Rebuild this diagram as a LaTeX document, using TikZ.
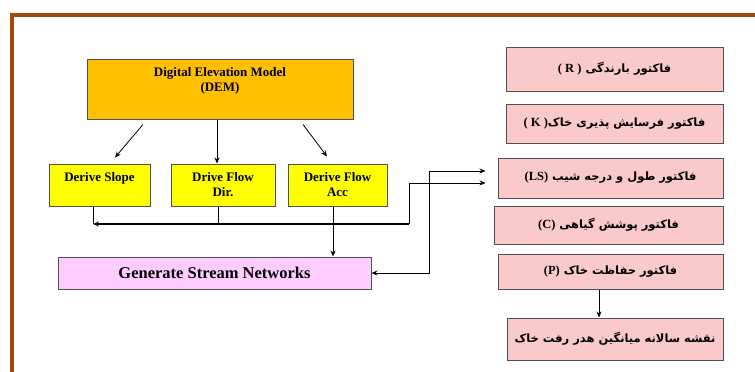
\documentclass[tikz,border=0pt]{standalone}
\usepackage{fontspec}
\setmainfont{Liberation Serif}
\newfontfamily\fa[Script=Arabic]{DejaVu Sans}
\TeXXeTstate=1
\usetikzlibrary{arrows.meta}
\definecolor{rahmen}{RGB}{158,75,12}
\definecolor{randlinie}{RGB}{80,80,80}
\definecolor{demfill}{RGB}{255,192,0}
\definecolor{derfill}{RGB}{255,255,0}
\definecolor{genfill}{RGB}{255,204,255}
\definecolor{fakfill}{RGB}{250,202,202}
\begin{document}
\begin{tikzpicture}[x=1pt,y=-1pt,
	box/.style 2 args={draw=randlinie, line width=1pt, minimum width=#1pt, minimum height=#2pt, inner sep=0pt},
	lab/.style={anchor=north, align=center, inner sep=0pt, yshift=-9pt, font=\bfseries\fontsize{13}{15}\selectfont},
	fak/.style={font=\fa\bfseries\fontsize{11.5}{13}\selectfont},
	pfeil/.style={-{Stealth[length=6pt,width=5pt]}, line width=0.8pt}]
		\useasboundingbox (0,0) rectangle (755,372);
		\fill[white] (0,0) rectangle (755,372);
		%Rahmen
		\draw[rahmen, line width=4pt] (755,14.5) -- (12,14.5) -- (12,372);
		%DEM und Ableitungen
		\node at (220,89) [box={266}{60}, fill=demfill, label={[lab]north:{Digital Elevation Model\\(DEM)}}] (dem) {};
		\node at (99.5,185) [box={101}{42}, fill=derfill, label={[lab]north:{Derive Slope}}] (slope) {};
		\node at (223,185) [box={104}{42}, fill=derfill, label={[lab]north:{Drive Flow\\Dir.}}] (dir) {};
		\node at (337.5,185) [box={99}{42}, fill=derfill, label={[lab]north:{Derive Flow\\Acc}}] (acc) {};
		\node at (214.5,273) [box={313}{32}, fill=genfill, font=\bfseries\fontsize{16.5}{18}\selectfont] (gen) {Generate Stream Networks};
		%Faktoren rechts
		\node at (614.5,69) [box={217}{44}, fill=fakfill, fak] (R) {\beginR فاکتور بارندگی \beginL{\rmfamily\fontsize{12.5}{14}\selectfont ( R )}\endL\endR};
		\node at (614.5,123.5) [box={217}{39}, fill=fakfill, fak] (K) {\beginR فاکتور فرسایش پذیری خاک\beginL{\rmfamily\fontsize{12.5}{14}\selectfont ( K )}\endL\endR};
		\node at (610.5,178) [box={225}{40}, fill=fakfill, fak] (LS) {\beginR فاکتور طول و درجه شیب \beginL{\rmfamily\fontsize{12.5}{14}\selectfont (LS)}\endL\endR};
		\node at (608.5,225) [box={229}{38}, fill=fakfill, fak] (C) {\beginR فاکتور پوشش گیاهی \beginL{\rmfamily\fontsize{12.5}{14}\selectfont (C)}\endL\endR};
		\node at (610.5,271.5) [box={225}{35}, fill=fakfill, fak] (P) {\beginR فاکتور حفاظت خاک \beginL{\rmfamily\fontsize{12.5}{14}\selectfont (P)}\endL\endR};
		\node at (615,339) [box={216}{42}, fill=fakfill, fak] (fin) {\beginR نقشه سالانه میانگین هدر رفت خاک\endR};
		%Pfeile DEM
		\draw[pfeil] ([xshift=-77pt,yshift=-5pt]dem.south) -- ([xshift=15.5pt,yshift=6pt]slope.north);
		\draw[pfeil] ([xshift=-6pt]dir.north |- dem.south) -- ([xshift=-6pt]dir.north);
		\draw[pfeil] ([xshift=83pt,yshift=-5pt]dem.south) -- ([xshift=-10.5pt,yshift=7pt]acc.north);
		%Sammelleitung
		\coordinate (busL) at (93,224);
		\coordinate (busR) at (409,224);
		\draw[line width=0.8pt] ([xshift=-6.5pt]slope.south) -- (busL);
		\draw[line width=0.8pt] ([xshift=-5pt]dir.south) -- ([xshift=-5pt]dir.south |- busL);
		\draw[pfeil, line width=1.3pt] (busR) -- (busL);
		\draw[pfeil, shorten >=12pt] (busR) |- ([yshift=-5pt]LS.west);
		\draw[pfeil] ([xshift=-4.5pt]acc.south) -- ([xshift=-4.5pt]acc.south |- gen.north);
		\draw[pfeil, {Stealth[length=6pt,width=5pt]}-{Stealth[length=6pt,width=5pt]}, shorten >=12pt] (gen.east) -- ++(58pt,0) |- ([yshift=7pt]LS.west);
		\draw[pfeil] ([xshift=-11.5pt]P.south) -- ([xshift=-11.5pt]P.south |- fin.north);
\end{tikzpicture}
\end{document}
